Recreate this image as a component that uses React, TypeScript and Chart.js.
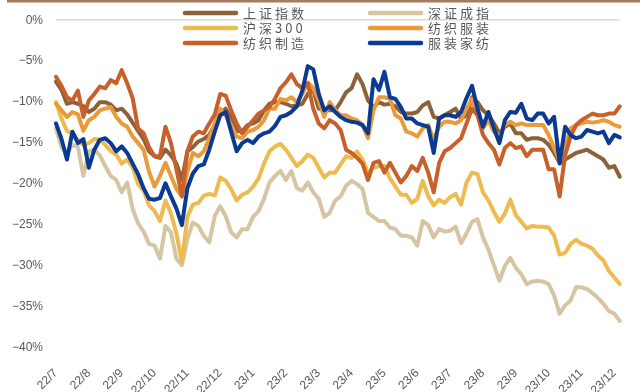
import React, { useEffect, useRef } from 'react';
import { Chart, registerables } from 'chart.js';

Chart.register(...registerables);

// Month tick labels (one every 6 samples)
const monthLabels = ['22/7', '22/8', '22/9', '22/10', '22/11', '22/12', '23/1', '23/2', '23/3', '23/4', '23/5', '23/6', '23/7', '23/8', '23/9', '23/10', '23/11', '23/12'];
const samplesPerMonth = 6;

// 上证指数
const shIndex = [
  -7.5, -8.5, -10.2, -10.0, -10.2, -10.5, -11.2, -10.8, -10.0, -10.0,
  -10.3, -11.0, -10.8, -11.5, -12.5, -13.5, -14.5, -16.0, -16.6, -16.8,
  -15.8, -16.5, -17.5, -19.5, -16.0, -15.5, -14.8, -14.5, -14.0, -12.8,
  -11.5, -10.8, -12.0, -13.5, -13.6, -12.8, -12.6, -12.2, -11.0, -10.2,
  -10.0, -10.0, -10.2, -10.5, -10.4, -10.2, -9.0, -8.5, -10.8, -11.0,
  -11.0, -11.0, -10.0, -8.8, -8.3, -6.6, -7.8, -9.8, -10.6, -10.0,
  -10.3, -10.2, -10.5, -11.2, -11.4, -11.4, -11.2, -10.4, -10.0, -11.8,
  -12.0, -11.6, -11.2, -10.8, -12.0, -11.6, -9.4, -10.0, -11.0, -11.6,
  -12.6, -13.8, -13.0, -12.6, -13.8, -13.8, -14.6, -14.4, -14.4, -14.6,
  -15.2, -16.2, -17.4, -17.0, -16.6, -16.2, -16.0, -15.8, -16.2, -16.6,
  -17.0, -18.0, -17.8, -19.1,
];

// 深证成指
const szIndex = [
  -13.2, -15.5, -16.2, -15.2, -15.5, -19.0, -16.0, -15.8, -16.5, -17.8,
  -19.0, -19.5, -21.0, -19.8, -23.0, -24.8, -25.8, -27.3, -27.5, -29.1,
  -25.1, -25.9, -29.1, -29.9, -26.7, -24.7, -25.1, -26.3, -27.1, -23.9,
  -22.7, -23.9, -25.9, -26.5, -25.5, -25.5, -24.0, -23.3, -21.8, -19.8,
  -19.0, -18.4, -19.5, -18.4, -20.5, -20.8, -19.8, -21.0, -21.8, -24.0,
  -23.5, -22.0, -21.5, -20.2, -19.6, -20.0, -20.6, -23.5, -24.0, -24.5,
  -24.5, -25.3, -25.5, -26.3, -26.3, -26.5, -27.5, -24.5, -25.0, -26.5,
  -25.5, -25.8, -25.7, -25.2, -27.2, -26.0, -24.6, -24.3, -26.5, -28.0,
  -29.9, -31.8, -30.0, -29.0, -30.2, -31.0, -32.2, -31.9, -31.8, -31.9,
  -32.2, -33.6, -35.8, -34.8, -34.2, -32.6, -32.6, -32.8, -33.3, -33.9,
  -34.6, -35.5, -35.8, -36.7,
];

// 沪深300
const hs300 = [
  -10.0, -12.0, -13.5, -13.8, -14.6, -15.2, -15.0, -14.5, -14.6, -15.2,
  -16.0, -16.4, -17.5, -17.0, -18.0, -20.0, -20.8, -22.6, -23.3, -24.5,
  -22.0, -23.6, -26.0, -29.5, -24.0, -22.5, -22.3, -21.4, -21.2, -21.4,
  -19.2, -19.6, -20.6, -22.0, -21.3, -21.0, -20.3, -19.3, -17.5, -16.0,
  -15.4, -15.1, -15.8, -16.8, -17.8, -17.2, -16.4, -16.8, -18.0, -19.2,
  -18.6, -18.6, -17.6, -16.6, -16.8, -16.0, -17.0, -18.6, -18.0, -17.8,
  -17.8, -19.3, -20.3, -21.3, -21.3, -22.3, -21.8, -19.6, -21.5, -22.6,
  -21.9, -22.3, -21.6, -21.2, -22.5, -19.8, -18.6, -18.8, -21.0, -22.0,
  -23.4, -24.6, -23.6, -21.9, -23.8, -24.6, -25.4, -25.1, -25.2, -25.2,
  -25.3, -26.3, -28.6, -28.4, -27.3, -26.8, -27.3, -27.5, -27.9, -28.7,
  -29.3, -30.6, -31.4, -32.2,
];

// 纺织服装
const textileApparel = [
  -10.2, -11.0, -11.8, -11.2, -11.5, -13.5, -12.2, -11.8, -11.0, -10.8,
  -10.6, -11.8, -12.6, -13.0, -14.2, -15.0, -15.8, -18.5, -20.3, -19.0,
  -17.4, -19.0, -20.6, -21.5, -18.5, -16.2, -16.6, -16.0, -14.4, -12.6,
  -10.8, -11.6, -12.8, -14.2, -14.4, -13.6, -13.4, -13.0, -12.2, -10.8,
  -10.8, -9.6, -9.8, -9.4, -10.0, -9.0, -7.6, -8.3, -9.8, -11.8,
  -10.0, -11.0, -11.6, -11.6, -12.0, -12.2, -12.8, -14.4, -11.0, -9.4,
  -9.4, -9.6, -11.6, -12.0, -13.6, -13.8, -14.2, -13.2, -12.8, -14.6,
  -13.0, -12.4, -12.4, -12.6, -12.2, -10.8, -9.6, -11.6, -13.2, -12.2,
  -13.6, -14.2, -12.8, -12.4, -12.8, -12.6, -12.8, -12.8, -12.8, -12.8,
  -14.0, -15.6, -17.2, -15.5, -13.2, -12.8, -12.6, -12.4, -12.5, -12.4,
  -12.2, -12.4, -12.8, -13.0,
];

// 纺织制造
const textileMfg = [
  -6.9, -8.0, -9.4, -9.8, -8.6, -11.8, -9.8, -9.0, -8.1, -8.3,
  -7.3, -7.7, -6.1, -7.7, -9.5, -13.2, -13.8, -15.5, -16.6, -16.6,
  -13.0, -15.0, -18.2, -21.5, -16.0, -14.2, -13.6, -13.8, -12.6, -11.5,
  -9.0, -9.2, -11.0, -12.6, -13.8, -13.0, -12.2, -11.4, -11.0, -10.6,
  -9.6, -8.3, -7.6, -6.6, -7.8, -8.3, -7.7, -10.8, -12.6, -13.2,
  -12.2, -12.6, -13.4, -15.8, -16.2, -16.8, -17.5, -19.5, -17.4, -17.2,
  -18.6, -17.4, -18.6, -19.8, -19.0, -17.8, -18.4, -16.8, -18.6, -21.0,
  -17.4, -16.0, -15.6, -15.0, -14.4, -12.6, -10.8, -11.6, -14.0, -15.0,
  -15.8, -17.6, -15.6, -15.0, -15.6, -15.4, -16.6, -15.8, -15.8, -15.8,
  -18.2, -18.2, -21.5, -16.5, -14.2, -12.8, -12.2, -11.8, -11.4, -11.6,
  -11.6, -11.4, -11.4, -10.5,
];

// 服装家纺
const apparelHome = [
  -12.6, -14.5, -17.0, -13.6, -15.0, -14.5, -18.0, -15.8, -14.6, -14.4,
  -15.0, -16.0, -15.4, -16.2, -17.5, -18.8, -20.5, -21.8, -21.9, -21.7,
  -19.9, -21.5, -23.0, -25.0, -20.5, -18.7, -17.8, -17.6, -15.8, -13.6,
  -11.6, -11.2, -13.6, -16.0, -15.0, -14.6, -15.0, -14.2, -13.8, -13.6,
  -12.9, -11.8, -11.6, -11.2, -10.5, -8.6, -5.6, -6.0, -9.0, -11.0,
  -10.5, -11.2, -11.8, -12.2, -12.4, -12.5, -12.8, -13.8, -7.2, -8.5,
  -6.3, -9.4, -9.6, -10.6, -12.0, -12.0, -12.6, -12.8, -13.0, -16.2,
  -12.0, -11.6, -11.6, -11.8, -11.2, -9.5, -8.0, -10.8, -13.0, -11.2,
  -13.2, -15.0, -12.2, -11.2, -11.3, -10.2, -12.0, -12.2, -11.4, -11.4,
  -12.6, -11.8, -17.5, -13.0, -14.0, -14.4, -14.2, -13.4, -13.6, -13.8,
  -13.6, -15.0, -14.0, -14.3,
];

const seriesNames = ['上证指数', '深证成指', '沪深300', '纺织服装', '纺织制造', '服装家纺'];
const seriesColors = ['#8C6239', '#D6C5A2', '#EDBB50', '#EB9A3A', '#C8602B', '#0B3A92'];
const seriesData = [shIndex, szIndex, hs300, textileApparel, textileMfg, apparelHome];

const AXIS_FONT = { family: '"Liberation Sans", Arial, sans-serif', size: 12 };
const TEXT_COLOR = '#595959';

const legendPlugin = {
  id: 'gridLegend',
  afterDraw(chart: any) {
    const ctx = chart.ctx;
    ctx.save();
    // top brown border
    ctx.fillStyle = '#A57C5C';
    ctx.fillRect(7, 0, 633, 2.5);
    const cols = [183, 368];
    const rows = [13, 28, 43];
    ctx.font = '13px "Noto Sans CJK SC", sans-serif';
    try { (ctx as any).letterSpacing = '3px'; } catch (e) {}
    chart.data.datasets.forEach((d: any, i: number) => {
      const cx = cols[i % 2];
      const cy = rows[Math.floor(i / 2)];
      const tw = ctx.measureText(d.label).width;
      ctx.fillStyle = '#ffffff';
      ctx.fillRect(cx - 2, cy - 6, 62 + tw, 12);
      ctx.strokeStyle = d.borderColor;
      ctx.lineWidth = 4.5;
      ctx.lineCap = 'round';
      ctx.beginPath();
      ctx.moveTo(cx + 2, cy);
      ctx.lineTo(cx + 53, cy);
      ctx.stroke();
      ctx.fillStyle = TEXT_COLOR;
      ctx.textBaseline = 'middle';
      ctx.textAlign = 'left';
      ctx.fillText(d.label, cx + 60, cy + 0.5);
    });
    ctx.restore();
  },
};

export default function App() {
  const canvasRef = useRef<HTMLCanvasElement | null>(null);

  useEffect(() => {
    document.body.style.margin = '0';
    const canvas = canvasRef.current;
    if (!canvas) return;
    const n = shIndex.length;
    const labels = Array.from({ length: n }, (_, i) =>
      i % samplesPerMonth === 0 && monthLabels[i / samplesPerMonth] ? monthLabels[i / samplesPerMonth] : ''
    );
    const datasets = seriesNames.map((name, i) => ({
      label: name,
      data: seriesData[i],
      borderColor: seriesColors[i],
      backgroundColor: seriesColors[i],
      borderWidth: 4,
      pointRadius: 0,
      tension: 0,
      fill: false,
      order: seriesNames.length - i,
      borderJoinStyle: 'round' as const,
      borderCapStyle: 'round' as const,
    }));
    const chart = new Chart(canvas, {
      type: 'line',
      data: { labels, datasets },
      options: {
        responsive: false,
        maintainAspectRatio: false,
        animation: false,
        layout: { padding: { top: 16, right: 6, left: 0, bottom: 0 } },
        plugins: { legend: { display: false }, tooltip: { enabled: false } },
        scales: {
          x: {
            grid: { display: false },
            border: { display: false },
            ticks: {
              autoSkip: false,
              maxRotation: 45,
              minRotation: 45,
              color: TEXT_COLOR,
              font: AXIS_FONT,
              padding: 10,
            },
            afterFit: (s: any) => { s.height = 44; },
          },
          y: {
            min: -40,
            max: 0,
            border: { display: false },
            grid: {
              drawTicks: false,
              lineWidth: 1.5,
              color: (c: any) => (c.tick && c.tick.value === 0 ? '#D9D9D9' : 'rgba(0,0,0,0)'),
            },
            ticks: {
              stepSize: 5,
              padding: 13,
              color: TEXT_COLOR,
              font: AXIS_FONT,
              callback: (v: any) => (Number(v) === 0 ? '0%' : '\u2212' + Math.abs(Number(v)) + '%'),
            },
            afterFit: (s: any) => { s.width = 56; },
          },
        },
      },
      plugins: [legendPlugin],
    });
    return () => chart.destroy();
  }, []);

  return (
    <div style={{ width: 640, height: 392, background: '#fff' }}>
      <canvas ref={canvasRef} width={640} height={392} style={{ display: 'block' }} />
    </div>
  );
}
